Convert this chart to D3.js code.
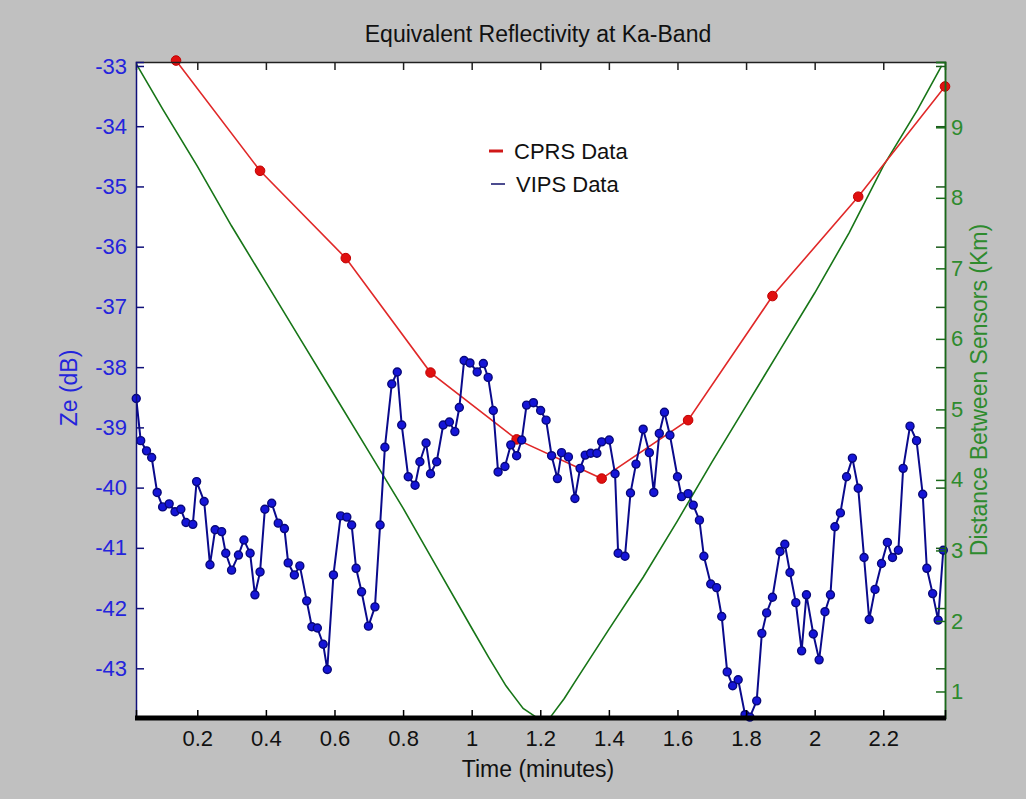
<!DOCTYPE html>
<html>
<head>
<meta charset="utf-8">
<title>Equivalent Reflectivity at Ka-Band</title>
<script src="https://cdn.jsdelivr.net/npm/d3@7"></script>
<style>
  body { margin: 0; background: #c0c0c0; }
  svg text { font-family: "Liberation Sans", Arial, Helvetica, sans-serif; }
</style>
</head>
<body>
<svg id="chart"></svg>
<script>
'use strict';

// CPRS radar, Ze (dB) vs time (minutes)
var cprsTime = [0.138, 0.383, 0.633, 0.880, 1.131, 1.379, 1.631, 1.877, 2.127, 2.380];
var cprsZe = [-32.91, -34.74, -36.19, -38.09, -39.20, -39.85, -38.88, -36.82, -35.17, -33.34];

// VIPS radar, Ze (dB) vs time (minutes)
var vipsTime = [
  0.022, 0.035, 0.052, 0.067, 0.083, 0.099, 0.118, 0.135, 0.152, 0.167,
  0.187, 0.198, 0.220, 0.237, 0.252, 0.271, 0.283, 0.300, 0.320, 0.336,
  0.354, 0.368, 0.383, 0.397, 0.417, 0.436, 0.454, 0.465, 0.483, 0.499,
  0.519, 0.534, 0.550, 0.567, 0.579, 0.597, 0.618, 0.636, 0.650, 0.663,
  0.679, 0.699, 0.718, 0.733, 0.747, 0.767, 0.783, 0.796, 0.815, 0.835,
  0.849, 0.867, 0.880, 0.898, 0.917, 0.935, 0.951, 0.964, 0.978, 0.995,
  1.016, 1.034, 1.048, 1.063, 1.077, 1.097, 1.114, 1.131, 1.146, 1.160,
  1.180, 1.201, 1.217, 1.233, 1.250, 1.262, 1.282, 1.301, 1.316, 1.331,
  1.347, 1.365, 1.379, 1.401, 1.418, 1.427, 1.447, 1.463, 1.479, 1.500,
  1.518, 1.531, 1.547, 1.562, 1.578, 1.600, 1.612, 1.631, 1.646, 1.664,
  1.677, 1.697, 1.714, 1.729, 1.745, 1.761, 1.777, 1.797, 1.811, 1.831,
  1.846, 1.860, 1.877, 1.899, 1.913, 1.928, 1.945, 1.962, 1.976, 1.996,
  2.013, 2.030, 2.046, 2.059, 2.075, 2.093, 2.110, 2.127, 2.144, 2.159,
  2.176, 2.195, 2.212, 2.227, 2.244, 2.258, 2.278, 2.297, 2.315, 2.327,
  2.344, 2.360, 2.375
];
var vipsZe = [
  -38.52, -39.22, -39.39, -39.50, -40.08, -40.32, -40.27, -40.40, -40.36, -40.58,
  -40.61, -39.90, -40.23, -41.28, -40.70, -40.73, -41.09, -41.37, -41.12, -40.87,
  -41.09, -41.78, -41.40, -40.36, -40.26, -40.59, -40.68, -41.25, -41.45, -41.30,
  -41.88, -42.31, -42.33, -42.60, -43.02, -41.45, -40.47, -40.49, -40.62, -41.34,
  -41.73, -42.30, -41.98, -40.62, -39.33, -38.28, -38.08, -38.96, -39.82, -39.96,
  -39.57, -39.26, -39.77, -39.57, -38.96, -38.91, -39.07, -38.67, -37.89, -37.93,
  -38.08, -37.94, -38.17, -38.72, -39.74, -39.65, -39.29, -39.47, -39.21, -38.63,
  -38.59, -38.72, -38.88, -39.47, -39.85, -39.42, -39.49, -40.18, -39.68, -39.46,
  -39.43, -39.43, -39.24, -39.21, -39.77, -41.09, -41.14, -40.09, -39.61, -39.03,
  -39.42, -40.08, -39.10, -38.75, -39.13, -39.82, -40.15, -40.10, -40.29, -40.54,
  -41.14, -41.60, -41.66, -42.14, -43.06, -43.29, -43.19, -43.77, -43.81, -43.54,
  -42.42, -42.08, -41.82, -41.06, -40.94, -41.41, -41.91, -42.71, -41.78, -42.43,
  -42.86, -42.06, -41.78, -40.65, -40.42, -39.82, -39.51, -40.01, -41.16, -42.19,
  -41.69, -41.26, -40.91, -41.16, -41.04, -39.68, -38.98, -39.22, -40.11, -41.34,
  -41.76, -42.20, -41.04
];

// distance between the two sensors (Km), right axis
var distTime = [0.022, 0.1, 0.2, 0.3, 0.4, 0.5, 0.6, 0.7, 0.8, 0.9, 1.0, 1.05, 1.1, 1.15, 1.19, 1.21,
  1.23, 1.27, 1.3, 1.4, 1.5, 1.6, 1.7, 1.8, 1.9, 2.0, 2.1, 2.2, 2.3, 2.37];
var distKm = [9.90, 9.25, 8.45, 7.60, 6.80, 6.00, 5.20, 4.40, 3.60, 2.75, 1.90, 1.48, 1.08, 0.76, 0.63, 0.61,
  0.64, 0.90, 1.13, 1.88, 2.62, 3.42, 4.25, 5.05, 5.85, 6.65, 7.50, 8.45, 9.25, 9.87];

var timeTicks = [0.2, 0.4, 0.6, 0.8, 1, 1.2, 1.4, 1.6, 1.8, 2, 2.2];
var zeTicks = [-33, -34, -35, -36, -37, -38, -39, -40, -41, -42, -43];
var kmTicks = [1, 2, 3, 4, 5, 6, 7, 8, 9];

var width = 1026,
  height = 799,
  plotLeft = 136, plotRight = 945, plotTop = 62, plotBottom = 718;

var svg = d3.select('#chart')
  .attr('width', width)
  .attr('height', height);

svg.append('rect')
  .attr('width', width)
  .attr('height', height)
  .attr('fill', '#c0c0c0');

svg.append('rect')
  .attr('x', plotLeft).attr('y', plotTop)
  .attr('width', plotRight - plotLeft).attr('height', plotBottom - plotTop)
  .attr('fill', '#ffffff');

var x = d3.scaleLinear().domain([0.0213, 2.380]).range([plotLeft, plotRight]);
var yZe = d3.scaleLinear().domain([-43.825, -32.934]).range([plotBottom, plotTop]);
var yKm = d3.scaleLinear().domain([0.624, 9.926]).range([plotBottom, plotTop]);

svg.append('clipPath').attr('id', 'plotClip')
  .append('rect')
  .attr('x', plotLeft).attr('y', plotTop)
  .attr('width', plotRight - plotLeft).attr('height', plotBottom - plotTop);

// distance line (green)
var distLine = d3.line()
  .x(function (d) { return x(d[0]); })
  .y(function (d) { return yKm(d[1]); });

svg.append('path')
  .datum(d3.zip(distTime, distKm))
  .attr('clip-path', 'url(#plotClip)')
  .attr('d', distLine)
  .attr('fill', 'none')
  .attr('stroke', '#177517')
  .attr('stroke-width', 1.6);

// CPRS (red)
var zeLine = d3.line()
  .x(function (d) { return x(d[0]); })
  .y(function (d) { return yZe(d[1]); });

var cprs = d3.zip(cprsTime, cprsZe);
svg.append('path')
  .datum(cprs)
  .attr('clip-path', 'url(#plotClip)')
  .attr('d', zeLine)
  .attr('fill', 'none')
  .attr('stroke', '#e02828')
  .attr('stroke-width', 1.6);

svg.selectAll('.cprs-dot')
  .data(cprs)
  .enter().append('circle')
  .attr('class', 'cprs-dot')
  .attr('cx', function (d) { return x(d[0]); })
  .attr('cy', function (d) { return yZe(d[1]); })
  .attr('r', 4.8)
  .attr('fill', '#e01010')
  .attr('stroke', '#c00000')
  .attr('stroke-width', 1);

// VIPS (blue)
var vips = d3.zip(vipsTime, vipsZe);
svg.append('path')
  .datum(vips)
  .attr('clip-path', 'url(#plotClip)')
  .attr('d', zeLine)
  .attr('fill', 'none')
  .attr('stroke', '#0a0a8c')
  .attr('stroke-width', 2);

svg.selectAll('.vips-dot')
  .data(vips)
  .enter().append('circle')
  .attr('class', 'vips-dot')
  .attr('cx', function (d) { return x(d[0]); })
  .attr('cy', function (d) { return yZe(d[1]); })
  .attr('r', 4)
  .attr('fill', '#1515d8')
  .attr('stroke', '#08087a')
  .attr('stroke-width', 1.4);

// axes
function styleAxis(g, lineColor, textColor) {
  g.select('.domain').attr('stroke', lineColor).attr('stroke-width', 1.5);
  g.selectAll('.tick line').attr('stroke', lineColor).attr('stroke-width', 1.5);
  g.selectAll('.tick text')
    .attr('fill', textColor)
    .style('font-size', '22px');
}

var fmtTime = function (d) { return String(+d.toFixed(1)); };

svg.append('g')
  .attr('transform', 'translate(0,' + plotTop + ')')
  .call(d3.axisTop(x).tickValues(timeTicks).tickSize(-8).tickFormat(''))
  .call(styleAxis, '#202020', '#000');

svg.append('g')
  .attr('transform', 'translate(' + plotRight + ',0)')
  .call(d3.axisRight(yZe).tickValues(zeTicks).tickSize(-9).tickFormat(''))
  .call(styleAxis, '#1a5a1a', '#000');

svg.append('g')
  .attr('transform', 'translate(' + plotRight + ',0)')
  .call(d3.axisRight(yKm).tickValues(kmTicks).tickSize(-9).tickPadding(6)
    .tickFormat(function (d) { return String(d); }))
  .call(styleAxis, '#1a6a1a', '#2e8b2e');

svg.append('g')
  .attr('transform', 'translate(' + plotLeft + ',0)')
  .call(d3.axisLeft(yZe).tickValues(zeTicks).tickSize(-8).tickPadding(9)
    .tickFormat(function (d) { return String(d); }))
  .call(styleAxis, '#10107a', '#2424dc');

svg.append('g')
  .attr('transform', 'translate(0,' + plotBottom + ')')
  .call(d3.axisBottom(x).tickValues(timeTicks).tickSize(-8).tickPadding(12).tickFormat(fmtTime))
  .call(styleAxis, '#000', '#111');

// heavy base line
svg.append('line')
  .attr('x1', plotLeft - 1).attr('x2', plotRight + 1)
  .attr('y1', plotBottom).attr('y2', plotBottom)
  .attr('stroke', '#000')
  .attr('stroke-width', 5);

// titles
svg.append('text')
  .attr('x', 538).attr('y', 42)
  .attr('text-anchor', 'middle')
  .style('font-size', '23px')
  .attr('fill', '#111')
  .text('Equivalent Reflectivity at Ka-Band');

svg.append('text')
  .attr('x', 538).attr('y', 777)
  .attr('text-anchor', 'middle')
  .style('font-size', '23px')
  .attr('fill', '#111')
  .text('Time (minutes)');

svg.append('text')
  .attr('transform', 'translate(77,388) rotate(-90)')
  .attr('text-anchor', 'middle')
  .style('font-size', '23px')
  .attr('fill', '#2424dc')
  .text('Ze (dB)');

svg.append('text')
  .attr('transform', 'translate(987,390) rotate(-90)')
  .attr('text-anchor', 'middle')
  .style('font-size', '23px')
  .attr('fill', '#2e8b2e')
  .text('Distance Between Sensors (Km)');

// legend
var legend = svg.append('g');
legend.append('line')
  .attr('x1', 489).attr('x2', 503).attr('y1', 151).attr('y2', 151)
  .attr('stroke', '#d01818').attr('stroke-width', 3);
legend.append('text')
  .attr('x', 514).attr('y', 159)
  .style('font-size', '22px')
  .attr('fill', '#111')
  .text('CPRS Data');
legend.append('line')
  .attr('x1', 491).attr('x2', 505).attr('y1', 184).attr('y2', 184)
  .attr('stroke', '#10106a').attr('stroke-width', 1.5);
legend.append('text')
  .attr('x', 516).attr('y', 192)
  .style('font-size', '22px')
  .attr('fill', '#111')
  .text('VIPS Data');
</script>
</body>
</html>
